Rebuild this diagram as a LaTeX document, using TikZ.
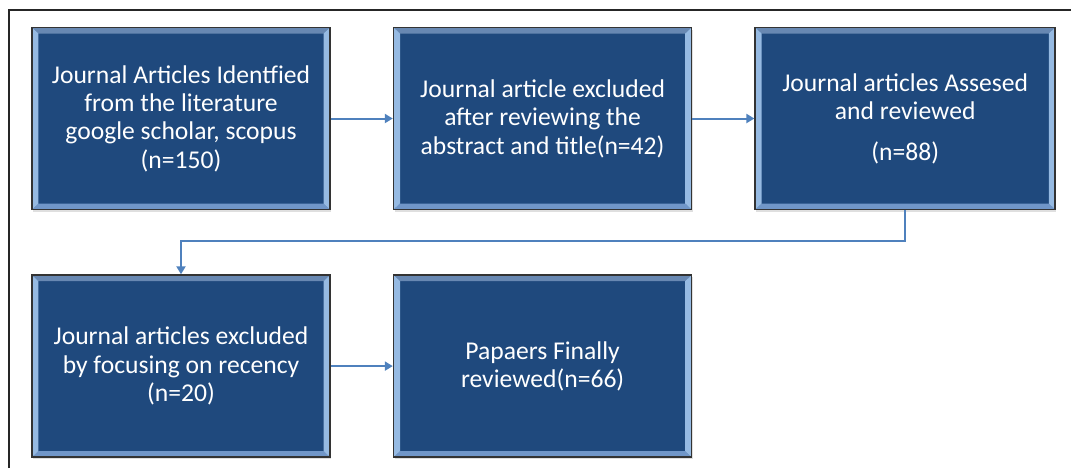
\documentclass[tikz,border=0pt]{standalone}
\usepackage{fontspec}
\setmainfont{Carlito}
\usetikzlibrary{positioning, arrows.meta, shadows}

\definecolor{stageblue}{RGB}{31,73,125}
\definecolor{bevelside}{RGB}{150,186,226}
\definecolor{beveltop}{RGB}{104,136,178}
\definecolor{bevelbottom}{RGB}{112,150,200}
\definecolor{flowblue}{RGB}{79,129,189}

\begin{document}
\begin{tikzpicture}[x = 0.5pt, y = -0.5pt, node distance = 32pt and 31pt, stage/.style = {rectangle, draw = black!80, line width = 0.8pt, fill = stageblue, text = white, minimum width = 149pt, minimum height = 91pt, align = center, font = \fontsize{12.8}{14.2}\selectfont, drop shadow = {opacity = 0.25, shadow xshift = 0.6pt, shadow yshift = -1pt}, path picture = {
            \fill[beveltop] (path picture bounding box.north west) -- (path picture bounding box.north east) -- ([shift = {(-3.2pt,-3pt)}]path picture bounding box.north east) -- ([shift = {(3.2pt,-3pt)}]path picture bounding box.north west) -- cycle;
            \fill[bevelbottom] (path picture bounding box.south west) -- (path picture bounding box.south east) -- ([shift = {(-3.2pt,3pt)}]path picture bounding box.south east) -- ([shift = {(3.2pt,3pt)}]path picture bounding box.south west) -- cycle;
            \fill[bevelside] (path picture bounding box.north west) -- (path picture bounding box.south west) -- ([shift = {(3.2pt,3pt)}]path picture bounding box.south west) -- ([shift = {(3.2pt,-3pt)}]path picture bounding box.north west) -- cycle;
            \fill[bevelside] (path picture bounding box.north east) -- (path picture bounding box.south east) -- ([shift = {(-3.2pt,3pt)}]path picture bounding box.south east) -- ([shift = {(-3.2pt,-3pt)}]path picture bounding box.north east) -- cycle;}}, flow/.style = {draw = flowblue, line width = 1pt, -{Triangle[length = 4pt, width = 4.5pt]}}]
    \useasboundingbox (0,0) rectangle (1071,468);
    % outer frame
    \draw[line width = 1pt, black!85] (9,468) |- (1071,10);

    \node[stage] (found) at (181,118.5) {Journal Articles Identfied\\from the literature\\google scholar, scopus\\(n=150)};
    \node[stage, right = of found] (screened) {Journal article excluded\\after reviewing the\\abstract and title(n=42)};
    \node[stage, right = of screened, minimum width = 150pt] (assessed) {Journal articles Assesed\\and reviewed\\[6pt](n=88)};
    \node[stage, below = of found] (recency) {Journal articles excluded\\by focusing on recency\\(n=20)};
    \node[stage, right = of recency] (final) {Papaers Finally\\reviewed(n=66)};

    \draw[flow] (found) -- (screened);
    \draw[flow] (screened) -- (assessed);
    \draw[flow] (assessed.south) -- ++(0,31) -| (recency.north);
    \draw[flow] (recency) -- (final);
\end{tikzpicture}
\end{document}
